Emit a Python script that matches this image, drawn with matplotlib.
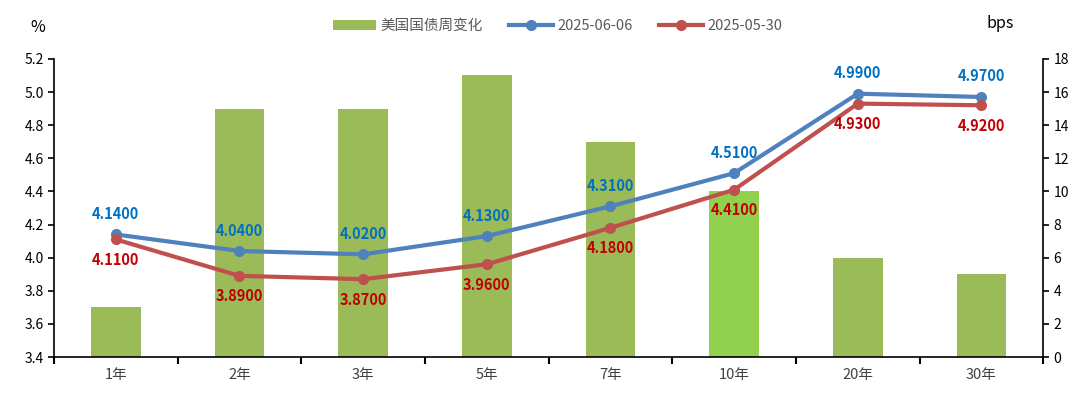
import matplotlib.pyplot as plt
import numpy as np

plt.rcParams['font.family'] = ['Noto Sans CJK SC', 'DejaVu Sans']

categories = ['1年', '2年', '3年', '5年', '7年', '10年', '20年', '30年']
weekly_change = [3, 15, 15, 17, 13, 10, 6, 5]
yield_0606 = [4.14, 4.04, 4.02, 4.13, 4.31, 4.51, 4.99, 4.97]
yield_0530 = [4.11, 3.89, 3.87, 3.96, 4.18, 4.41, 4.93, 4.92]

x = np.arange(len(categories))
bar_colors = ['#9BBB59'] * len(categories)
bar_colors[5] = '#92D050'

fig = plt.figure(figsize=(10.8, 3.98), dpi=100)
ax = fig.add_axes([0.05, 0.103, 0.916, 0.749])
ax2 = ax.twinx()

# bars on the right axis (bps), drawn behind the lines
ax2.bar(x, weekly_change, width=0.4, color=bar_colors, label='美国国债周变化', zorder=1)
ax2.set_ylim(0, 18)
ax2.set_yticks(range(0, 19, 2))
ax.set_zorder(ax2.get_zorder() + 1)
ax.patch.set_visible(False)

ax.plot(x, yield_0606, color='#4F81BD', lw=3, marker='o', ms=7, label='2025-06-06')
ax.plot(x, yield_0530, color='#C0504D', lw=3, marker='o', ms=7, label='2025-05-30')

for xi, v in zip(x, yield_0606):
    ax.annotate(f'{v:.4f}', (xi, v), xytext=(0, 9), textcoords='offset points',
                ha='center', va='bottom', color='#0070C0', fontsize=10.5, fontweight='bold')
for xi, v in zip(x, yield_0530):
    ax.annotate(f'{v:.4f}', (xi, v), xytext=(0, -9), textcoords='offset points',
                ha='center', va='top', color='#C00000', fontsize=10.5, fontweight='bold')

ax.set_xlim(-0.5, len(categories) - 0.5)
ax.set_ylim(3.4, 5.2)
ax.set_yticks(np.arange(3.4, 5.21, 0.2))
ax.set_yticklabels([f'{v:.1f}' for v in np.arange(3.4, 5.21, 0.2)])

ax.set_xticks(x)
ax.set_xticklabels(categories, color='#404040', fontsize=10.5)
ax.set_xticks(np.arange(-0.5, len(categories), 1), minor=True)
ax.tick_params(axis='x', which='major', length=0, pad=8)
ax.tick_params(axis='x', which='minor', length=5, width=1.5, direction='out')
ax.tick_params(axis='y', length=4, width=1.2, labelsize=10)
ax2.tick_params(axis='y', length=4, width=1.2, labelsize=10)

for a in (ax, ax2):
    a.spines['top'].set_visible(False)
ax.spines['left'].set_linewidth(1.2)
ax.spines['bottom'].set_linewidth(1.2)
ax2.spines['right'].set_linewidth(1.2)
ax2.spines['left'].set_visible(False)
ax2.spines['bottom'].set_visible(False)
ax.spines['right'].set_visible(False)

fig.text(0.035, 0.93, '%', fontsize=11.5, ha='center', va='center')
fig.text(0.926, 0.94, 'bps', fontsize=11.5, ha='center', va='center')

h1, l1 = ax2.get_legend_handles_labels()
h2, l2 = ax.get_legend_handles_labels()
fig.legend(h1 + h2, l1 + l2, loc='center', bbox_to_anchor=(0.516, 0.935), ncol=3,
           frameon=False, fontsize=10.5, labelcolor='#595959', handlelength=3,
           columnspacing=1.8, handletextpad=0.3)

fig.savefig('out.png', dpi=100)
